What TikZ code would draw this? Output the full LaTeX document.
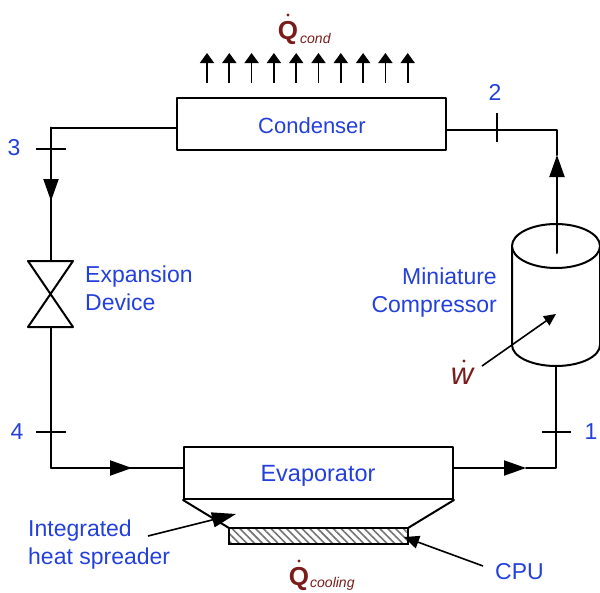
\documentclass[tikz,border=0pt]{standalone}
\usepackage{fontspec}
\setmainfont{Liberation Sans}
\usetikzlibrary{arrows.meta,patterns.meta}
\definecolor{lblue}{HTML}{2440DC}
\definecolor{qred}{HTML}{7A1C1C}
\tikzset{
  pipe/.style={line width=2pt,line cap=round,line join=round},
  flowtip/.style={pipe,-{Triangle[length=22pt,width=15pt]}},
  heat/.style={line width=1.7pt,-{Triangle[length=10pt,width=14pt]}},
  callout/.style={line width=1.6pt,-{Triangle[length=24pt,width=15pt]}},
  smalltip/.style={line width=1.6pt,-{Triangle[length=12pt,width=11pt]}},
  unit/.style={draw,pipe,fill=white,rectangle,inner sep=0pt,text=lblue},
  lbl/.style={text=lblue,inner sep=0pt,font=\fontsize{23}{28}\selectfont},
  qlbl/.style={text=qred,inner sep=0pt,font=\fontsize{26}{28}\selectfont\bfseries},
  qsub/.style={text=qred,inner sep=0pt,font=\fontsize{14}{16}\selectfont\itshape},
}
\begin{document}
\begin{tikzpicture}[x=1pt,y=-1pt]
\useasboundingbox (0,0) rectangle (600,592);
% units
\node[unit,minimum width=269pt,minimum height=52pt] (cond) at (311.5,124) {};
\node[unit,minimum width=269pt,minimum height=52pt] (evap) at (318.5,473) {};
\node[lbl,font=\fontsize{22}{25}\selectfont] (condt) at (312,126) {Condenser};
\node[lbl,font=\fontsize{23.5}{25}\selectfont] (evapt) at (318,476) {Evaporator};
% coordinates of the loop
\coordinate (tl) at (51,127.5);
\coordinate (a3) at (51,201);
\coordinate (vt) at (51,261);
\coordinate (vb) at (51,327);
\coordinate (bl) at (51,468);
\coordinate (a4) at (132,468);
\coordinate (a1) at (526,468);
\coordinate (br) at (556,468);
\coordinate (cb) at (556,365);
\coordinate (tr) at (557,130);
\coordinate (a2) at (557,155);
\coordinate (ci) at (557,253);
% pipes
\draw[pipe] (cond.west |- tl) -- (tl) -- (a3);
\draw[flowtip] (tl) -- (a3);
\draw[pipe] (a3) -- (vt);
\draw[pipe] (vb) -- (bl) -- (a4);
\draw[flowtip] (bl) -- (a4);
\draw[pipe] (a4) -- (evap.west |- a4);
\draw[flowtip] (evap.east |- a1) -- (a1);
\draw[pipe] (a1) -- (br) -- (cb);
\draw[pipe] (cond.east |- tr) -- (tr) -- (a2);
% valve
\coordinate (vtl) at (28,261);
\coordinate (vtr) at (73,261);
\coordinate (vbl) at (28,327);
\coordinate (vbr) at (73,327);
\draw[pipe] (vtl) -- (vtr) -- (vbl) -- (vbr) -- cycle;
% ticks
\foreach \n/\ax/\ay/\bx/\by in {t3/36/149/66/149,t4/36/432/66/432,t1/542/432/571/432,t2/497/113/497/142}{
  \coordinate (\n a) at (\ax,\ay);
  \coordinate (\n b) at (\bx,\by);
  \draw[line width=1.7pt] (\n a) -- (\n b);
}
% compressor
\draw[pipe,fill=white] (512,246) -- (512,345) arc[start angle=180,end angle=360,x radius=44pt,y radius=21pt] -- (600,246);
\draw[pipe,fill=white] (556,246) ellipse[x radius=44pt,y radius=22pt];
\draw[flowtip] (ci) -- (a2);
% spreader
\coordinate (sl) at (229,528);
\coordinate (sr) at (408,528);
\draw[pipe] (evap.south west) -- (sl);
\draw[pipe] (evap.south east) -- (sr);
% CPU
\node[draw,line width=1.8pt,minimum width=179pt,minimum height=16pt,inner sep=0pt,
  pattern={Lines[angle=-45,distance=5.5pt,line width=1.6pt]},pattern color=black!55] (cpu) at (318.5,536) {};
% heat arrows
\foreach \i in {0,...,9}{
  \coordinate (ha\i) at ({207+22.3*\i},83);
  \coordinate (hb\i) at ({207+22.3*\i},53);
  \draw[heat] (ha\i) -- (hb\i);
}
% labels
\node[lbl] (n2) at (495,92) {2};
\node[lbl] (n3) at (14,148) {3};
\node[lbl] (n4) at (17,432) {4};
\node[lbl] (n1) at (591,432) {1};
\node[lbl,anchor=west,align=left] (exp) at (85,288) {Expansion\\Device};
\node[lbl,anchor=east,align=right] (comp) at (497,293) {Miniature\\Compressor};
\node[lbl,anchor=west,align=left] (ihs) at (28,545) {Integrated\\heat spreader};
\node[lbl,anchor=west] (cput) at (495,572) {CPU};
% callouts
\coordinate (ihsa) at (148,536);
\coordinate (ihst) at (236,514);
\draw[callout] (ihsa) -- (ihst);
\coordinate (cpua) at (483,566);
\coordinate (cput2) at (404,537);
\draw[smalltip,-{Triangle[length=15pt,width=13pt]}] (cpua) -- (cput2);
\coordinate (wa) at (482,366);
\coordinate (wt) at (556,314);
\draw[smalltip] (wa) -- (wt);
% heat labels
\node[qlbl] (qc) at (288,33) {Q};
\fill[qred] (288,15) circle (1.6pt);
\node[qsub,anchor=west] (qcs) at (300,38) {cond};
\node[qlbl] (qe) at (299,579) {Q};
\fill[qred] (299,561) circle (1.6pt);
\node[qsub,anchor=west] (qes) at (310,584) {cooling};
\node[qlbl,font=\fontsize{31}{32}\selectfont\itshape] (w) at (462,376) {w};
\fill[qred] (464,361) circle (1.6pt);
\end{tikzpicture}
\end{document}
